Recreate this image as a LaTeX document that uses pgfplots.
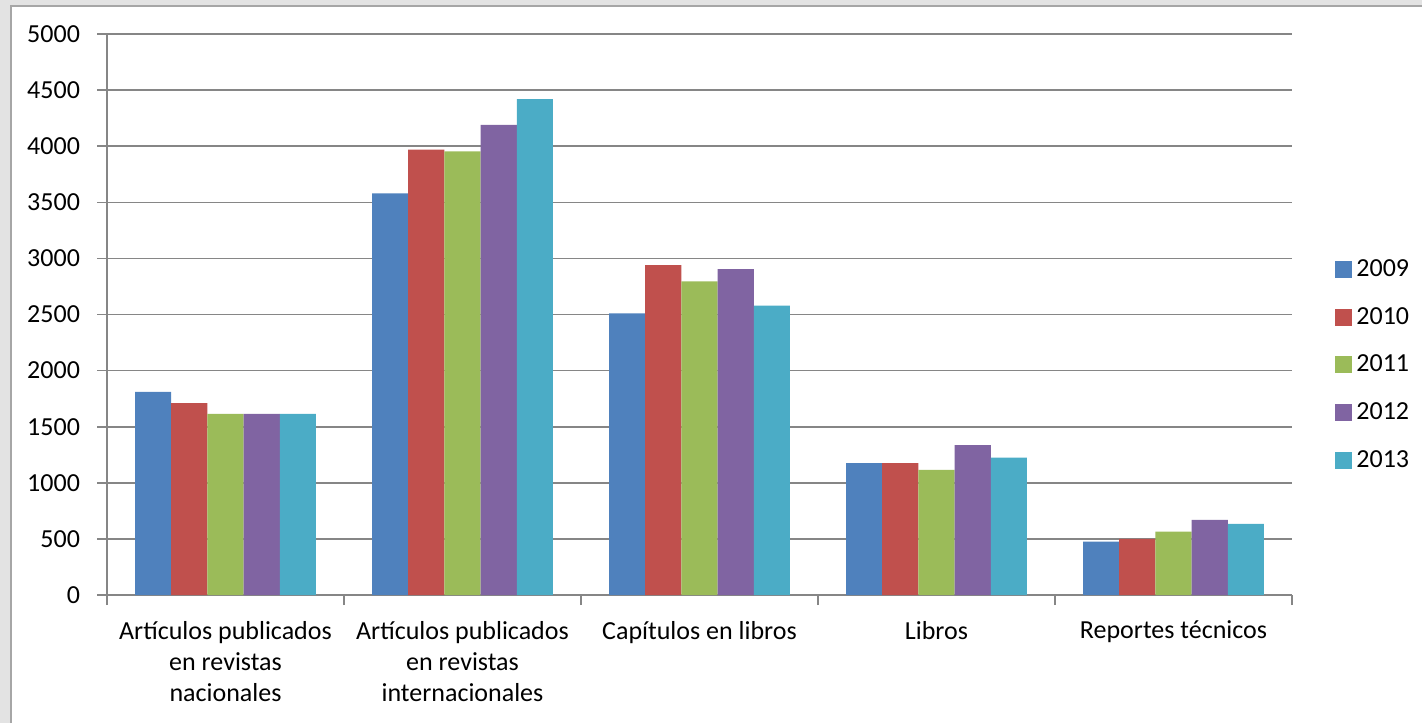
\documentclass[border=0pt]{standalone}
\usepackage{pgfplots}
\pgfplotsset{compat=1.18}
\usepackage{fontspec}
\setmainfont{Carlito}
\definecolor{c1}{HTML}{4F81BD}
\definecolor{c2}{HTML}{C0504D}
\definecolor{c3}{HTML}{9BBB59}
\definecolor{c4}{HTML}{8064A2}
\definecolor{c5}{HTML}{4BACC6}
\definecolor{gridc}{HTML}{868686}
\definecolor{framebg}{HTML}{E3E3E3}
\definecolor{framec}{HTML}{A6A6A6}
\begin{document}
\begin{tikzpicture}
\useasboundingbox (0,0) rectangle (711pt,361.5pt);
\fill[framebg] (0,0) rectangle (4.8pt,361.5pt);
\draw[framec, line width=1.2pt] (5.4pt,0) -- (5.4pt,358.6pt) -- (711pt,358.6pt);
\fill[framebg] (5pt,359.2pt) rectangle (711pt,361.5pt);
\begin{axis}[
  at={(53.5pt,64pt)}, anchor=south west,
  scale only axis, width=592.5pt, height=280.5pt,
  ybar=0pt, bar width=0.1527,
  xmin=-0.5, xmax=4.5, ymin=0, ymax=5000,
  ytick={0,500,...,5000},
  scaled y ticks=false,
  yticklabel style={/pgf/number format/1000 sep={}},
  /pgf/number format/assume math mode=true,
  axis x line*=bottom, axis y line*=left,
  axis line style={gridc, line width=0.8pt, -},
  ymajorgrids, grid style={gridc, line width=0.8pt},
  tick align=outside, major tick length=5pt,
  tick style={gridc, line width=0.8pt},
  xtick={-0.5,0.5,...,4.5},
  x tick label as interval,
  xticklabels={{Artículos publicados\\en revistas\\nacionales},
               {Artículos publicados\\en revistas\\internacionales},
               {Capítulos en libros},
               {Libros},
               {Reportes técnicos}},
  xticklabel style={align=center, font=\fontsize{13}{15.5}\selectfont, text=black, yshift=-4.5pt},
  yticklabel style={font=\fontsize{13}{15.5}\selectfont, text=black, xshift=-5pt},
  legend style={at={(1.0363,0.41)}, anchor=west, draw=none, fill=none,
                font=\fontsize{13}{15.5}\selectfont, row sep=10pt, inner sep=0pt},
  legend cell align=left,
  legend image code/.code={\fill[#1] (0pt,-4.25pt) rectangle (8.5pt,4.25pt);},
]
\addplot[fill=c1, draw=none] coordinates {(0,1810) (1,3580) (2,2510) (3,1175) (4,475)};
\addplot[fill=c2, draw=none] coordinates {(0,1710) (1,3970) (2,2940) (3,1175) (4,500)};
\addplot[fill=c3, draw=none] coordinates {(0,1615) (1,3955) (2,2795) (3,1115) (4,565)};
\addplot[fill=c4, draw=none] coordinates {(0,1615) (1,4190) (2,2905) (3,1335) (4,670)};
\addplot[fill=c5, draw=none] coordinates {(0,1615) (1,4420) (2,2580) (3,1225) (4,635)};
\legend{2009,2010,2011,2012,2013}
\end{axis}
\end{tikzpicture}
\end{document}
